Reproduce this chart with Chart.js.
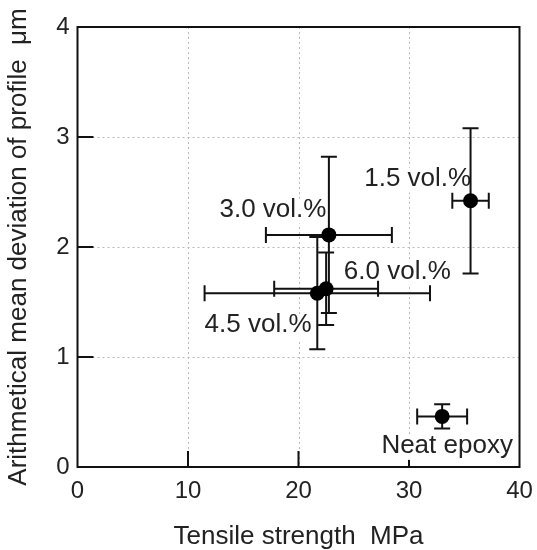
<!DOCTYPE html>
<html>
<head>
<meta charset="utf-8">
<script src="https://cdn.jsdelivr.net/npm/chart.js@4/dist/chart.umd.min.js"></script>
<style>
  html, body { margin: 0; padding: 0; background: #fff; }
  #wrap { width: 537px; height: 550px; }
</style>
</head>
<body>
<div id="wrap"><canvas id="c" width="537" height="550"></canvas></div>
<script>
// ---- data ----
const categories   = ['1.5 vol.%', '3.0 vol.%', '4.5 vol.%', '6.0 vol.%', 'Neat epoxy'];
const tensile      = [35.57, 22.75, 21.7, 22.5, 33.0];    // MPa
const tensileErr   = [1.65, 5.7, 10.2, 4.7, 2.26];
const roughness    = [2.42, 2.11, 1.58, 1.62, 0.46];       // µm
const roughnessErr = [0.66, 0.71, 0.51, 0.33, 0.11];
const xTicks = [0, 10, 20, 30, 40];
const yTicks = [0, 1, 2, 3, 4];

// label anchors (data coordinates) for the text annotations
const labelAnchorX = [25.95, 12.85, 11.5, 24.1, 27.5];
const labelAnchorY = [2.62, 2.34, 1.29, 1.775, 0.19];

const FONT = '"Liberation Sans", Arial, Helvetica, sans-serif';
const TEXT = '#222';
const LABEL_SIZE = 26;

const points = tensile.map((x, i) => ({ x: x, y: roughness[i] }));

const decorPlugin = {
  id: 'decor',
  beforeDatasetsDraw(chart) {
    const { ctx, chartArea: a, scales: { x, y } } = chart;
    ctx.save();
    // dotted grid
    ctx.strokeStyle = '#b8b8b8';
    ctx.lineWidth = 1;
    ctx.setLineDash([2, 3]);
    xTicks.slice(1, -1).forEach(v => {
      const px = Math.round(x.getPixelForValue(v)) + 0.5;
      ctx.beginPath(); ctx.moveTo(px, a.top); ctx.lineTo(px, a.bottom); ctx.stroke();
    });
    yTicks.slice(1, -1).forEach(v => {
      const py = Math.round(y.getPixelForValue(v)) + 0.5;
      ctx.beginPath(); ctx.moveTo(a.left, py); ctx.lineTo(a.right, py); ctx.stroke();
    });
    ctx.setLineDash([]);
    // inward tick marks
    ctx.strokeStyle = '#111';
    ctx.lineWidth = 2;
    const tl = 16;
    xTicks.slice(1, -1).forEach(v => {
      const px = x.getPixelForValue(v);
      ctx.beginPath(); ctx.moveTo(px, a.bottom); ctx.lineTo(px, a.bottom - tl); ctx.stroke();
    });
    yTicks.slice(1, -1).forEach(v => {
      const py = y.getPixelForValue(v);
      ctx.beginPath(); ctx.moveTo(a.left, py); ctx.lineTo(a.left + tl, py); ctx.stroke();
    });
    // text labels with white backing
    ctx.textAlign = 'left';
    ctx.textBaseline = 'middle';
    ctx.font = LABEL_SIZE + 'px ' + FONT;
    categories.forEach((t, i) => {
      const px = x.getPixelForValue(labelAnchorX[i]);
      const py = y.getPixelForValue(labelAnchorY[i]);
      const w = ctx.measureText(t).width;
      ctx.fillStyle = '#fff';
      ctx.fillRect(px - 1, py - LABEL_SIZE * 0.42, w + 2, LABEL_SIZE * 0.95);
      ctx.fillStyle = TEXT;
      ctx.fillText(t, px, py);
    });
    // error bars
    ctx.strokeStyle = '#111';
    ctx.lineWidth = 2;
    const cap = 8;
    tensile.forEach((xv, i) => {
      const yv = roughness[i];
      const cx = x.getPixelForValue(xv), cy = y.getPixelForValue(yv);
      const x0 = x.getPixelForValue(xv - tensileErr[i]), x1 = x.getPixelForValue(xv + tensileErr[i]);
      const y0 = y.getPixelForValue(yv - roughnessErr[i]), y1 = y.getPixelForValue(yv + roughnessErr[i]);
      ctx.beginPath();
      ctx.moveTo(x0, cy); ctx.lineTo(x1, cy);
      ctx.moveTo(x0, cy - cap); ctx.lineTo(x0, cy + cap);
      ctx.moveTo(x1, cy - cap); ctx.lineTo(x1, cy + cap);
      ctx.moveTo(cx, y0); ctx.lineTo(cx, y1);
      ctx.moveTo(cx - cap, y0); ctx.lineTo(cx + cap, y0);
      ctx.moveTo(cx - cap, y1); ctx.lineTo(cx + cap, y1);
      ctx.stroke();
    });
    ctx.restore();
  },
  afterDraw(chart) {
    const { ctx, chartArea: a } = chart;
    ctx.save();
    ctx.strokeStyle = '#111';
    ctx.lineWidth = 2;
    ctx.strokeRect(a.left, a.top, a.right - a.left, a.bottom - a.top);
    ctx.restore();
  }
};

new Chart(document.getElementById('c'), {
  type: 'scatter',
  data: {
    datasets: [{
      label: 'Samples',
      data: points,
      backgroundColor: '#000',
      borderColor: '#000',
      pointRadius: 7.5,
      pointHoverRadius: 7.5,
      borderWidth: 0
    }]
  },
  options: {
    responsive: false,
    animation: false,
    devicePixelRatio: 1,
    layout: { padding: { top: 27, right: 17.5, left: 0, bottom: 0 } },
    plugins: { legend: { display: false }, tooltip: { enabled: false } },
    scales: {
      x: {
        type: 'linear', min: 0, max: 40,
        afterBuildTicks: s => { s.ticks = xTicks.map(v => ({ value: v })); },
        afterFit: s => { s.height = 83; s.paddingLeft = 0; s.paddingRight = 0; },
        grid: { display: false, drawTicks: false },
        border: { display: false },
        ticks: { padding: 10, color: TEXT, font: { family: FONT, size: 24 } },
        title: { display: true, text: 'Tensile strength  MPa', color: TEXT,
                 font: { family: FONT, size: 26, lineHeight: 1 }, padding: { top: 0, bottom: 0 } }
      },
      y: {
        type: 'linear', min: 0, max: 4,
        afterBuildTicks: s => { s.ticks = yTicks.map(v => ({ value: v })); },
        afterFit: s => { s.width = 77.5; s.paddingTop = 0; s.paddingBottom = 0; },
        grid: { display: false, drawTicks: false },
        border: { display: false },
        ticks: { padding: 8, color: TEXT, font: { family: FONT, size: 24 } },
        title: { display: true, text: 'Arithmetical mean deviation of profile  μm', color: TEXT,
                 font: { family: FONT, size: 26, lineHeight: 1 }, padding: { top: 6, bottom: 0 } }
      }
    }
  },
  plugins: [decorPlugin]
});
</script>
</body>
</html>
